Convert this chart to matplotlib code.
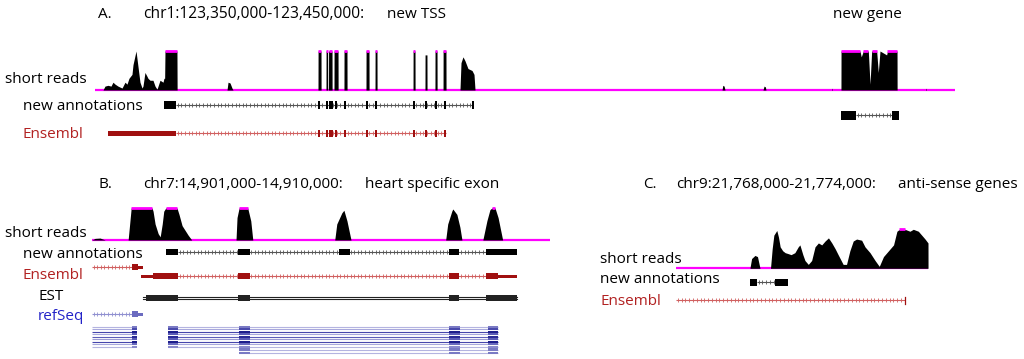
import numpy as np
import matplotlib.pyplot as plt

plt.rcParams['font.family'] = ['Open Sans', 'DejaVu Sans']

W, H = 1024, 359
MAGENTA = '#ff00ff'
RED = '#a01010'
RED_TXT = '#b22222'
BLUE_TXT = '#2323c8'

# ---------------- panel A : chr1 window, positions in kb from window start
cov_a_pos = [0, 0.93, 1.16, 1.51, 1.86, 2.09, 2.33, 2.67, 3.14, 3.26, 3.49, 3.72, 3.95, 4.30, 4.42,
             4.77, 5.00, 5.23, 5.47, 5.58, 5.81, 6.05, 6.16, 6.40, 6.74, 6.98, 7.21, 7.56, 7.91, 8.02,
             8.10, 8.14, 9.53, 9.55,
             15.35, 15.47, 15.70, 15.93, 16.05,
             25.93, 25.94, 26.28, 26.29,
             26.86, 26.87, 27.05, 27.06, 27.15, 27.16, 27.56, 27.57,
             27.79, 27.80, 28.26, 28.27,
             28.95, 28.96, 29.30, 29.31,
             31.51, 31.52, 31.86, 31.87,
             32.56, 32.57, 32.79, 32.80,
             36.98, 36.99, 37.21, 37.22,
             38.37, 38.38, 38.60, 38.61,
             39.53, 39.54, 39.77, 39.78,
             40.47, 40.48, 40.81, 40.82,
             42.44, 42.56, 42.79, 43.02, 43.37, 43.84, 44.07, 44.19,
             72.91, 73.00, 73.15, 73.26,
             77.67, 77.80, 77.95, 78.02,
             85.65, 85.70, 85.75,
             86.74, 86.75, 88.95, 89.10, 89.34, 89.50, 89.92, 90.12, 90.31, 90.50,
             90.89, 91.08, 91.28, 92.05, 92.15, 93.26, 93.27,
             96.58, 96.63, 96.68, 100]
cov_a_val = [0, 0, 0.10, 0.12, 0.10, 0.20, 0.15, 0.10, 0.05, 0.10, 0.20, 0.15, 0.30, 0.40, 0.65,
             1.0, 0.60, 0.20, 0.05, 0.10, 0.45, 0.35, 0.30, 0.25, 0.25, 0.10, 0.02, 0.25, 0.20, 0.30,
             0.30, 1.0, 1.0, 0,
             0, 0.20, 0.18, 0.05, 0,
             0, 1, 1, 0,
             0, 1, 1, 0, 0, 1, 1, 0,
             0, 1, 1, 0,
             0, 1, 1, 0,
             0, 1, 1, 0,
             0, 1, 1, 0,
             0, 1, 1, 0,
             0, 0.9, 0.9, 0,
             0, 1, 1, 0,
             0, 1, 1, 0,
             0, 0.70, 0.85, 0.75, 0.55, 0.50, 0.40, 0,
             0, 0.12, 0.10, 0,
             0, 0.10, 0.08, 0,
             0, 0.05, 0,
             0, 1, 1, 0.85, 1, 1, 1, 0.15, 1, 1,
             1, 0.45, 1, 0.90, 1, 1, 0,
             0, 0.05, 0, 0]

new_a_exons = [(8.02, 9.42), (25.93, 26.17), (26.86, 27.10), (27.21, 27.45), (27.44, 27.68),
               (27.90, 28.14), (28.95, 29.19), (31.51, 31.75), (32.55, 32.79), (36.97, 37.21),
               (38.37, 38.61), (39.53, 39.77), (40.58, 40.82), (43.83, 44.07)]
new_a_span = (9.42, 43.95)
ens_a_utr = [(1.51, 9.42)]
ens_a_exons = new_a_exons[1:-1]
ens_a_span = (9.42, 40.81)
newgene_exons = [(86.74, 88.49), (92.67, 93.49)]
newgene_span = (88.49, 92.67)

# ---------------- panel B : chr7 window, kb from window start
cov_b_pos = [0, 0.06, 0.16, 0.26, 0.71, 0.77, 1.18, 1.20, 1.24, 1.30, 1.34, 1.38, 1.41, 1.45, 1.67,
             1.71, 1.77, 1.83, 1.89, 1.96,
             2.83, 2.85, 2.89, 3.06, 3.12, 3.16,
             4.77, 4.81, 4.91, 4.95, 5.01, 5.09,
             6.95, 6.99, 7.07, 7.09, 7.17, 7.23, 7.27,
             7.68, 7.76, 7.82, 7.86, 7.92, 7.98, 8.07, 9.0]
cov_b_val = [0, 0.05, 0.06, 0, 0, 1, 1, 0.9, 0.5, 0.2, 0.1, 0.5, 0.9, 1, 1,
             0.8, 0.45, 0.3, 0.15, 0,
             0, 0.7, 1, 1, 0.6, 0,
             0, 0.5, 0.85, 0.93, 0.6, 0,
             0, 0.5, 0.9, 0.97, 0.8, 0.4, 0,
             0, 0.6, 0.95, 1, 1, 0.7, 0, 0]

new_b_exons = [(1.45, 1.69), (2.87, 3.10), (4.85, 5.07), (7.01, 7.21), (7.74, 8.35)]
new_b_span = (1.69, 7.74)
ens_b1_span = (0.0, 0.79)
ens_b1_exons = [(0.79, 0.90)]
ens_b1_utr = [(0.90, 1.00)]
ens_b2_span = (1.20, 7.74)
ens_b2_exons = [(1.20, 1.69), (2.87, 3.10), (7.01, 7.21), (7.74, 7.98)]
ens_b2_utr = [(0.96, 1.20), (7.98, 8.35)]
est_span = (1.00, 8.35)
est_exons = [(1.06, 1.69), (2.87, 3.10), (7.01, 7.21), (7.74, 8.35)]
refseq_span = (0.0, 0.79)
refseq_exons = [(0.79, 0.90)]
refseq_utr = [(0.90, 1.00)]
blue_left_span = (0.0, 0.84)
blue_left_exons = [(0.79, 0.88)]
blue_mid_span = (1.49, 7.98)
blue_mid_exons = [(1.49, 1.69), (2.89, 3.10), (7.01, 7.23), (7.78, 7.98)]
blue_low_span = (2.89, 7.98)
blue_low_exons = [(2.89, 3.10), (7.01, 7.23), (7.78, 7.98)]

# ---------------- panel C : chr9 window, kb from window start
cov_c_pos = [0, 1.76, 1.80, 1.88, 1.94, 1.98, 2.00, 2.25, 2.29, 2.33, 2.40, 2.44, 2.48, 2.54, 2.60,
             2.66, 2.74, 2.83, 2.91, 2.95, 3.02, 3.07, 3.15, 3.23, 3.31, 3.39, 3.47, 3.55, 3.63,
             3.71, 3.79, 3.86, 3.98, 4.06, 4.14, 4.22, 4.30, 4.42, 4.50, 4.62, 4.74, 4.84, 4.94,
             5.06, 5.18, 5.26, 5.32, 5.45, 5.57, 5.65, 5.77, 5.85, 5.93, 6.00, 6.001]
cov_c_val = [0, 0, 0.25, 0.33, 0.30, 0.10, 0, 0, 0.50, 0.85, 0.97, 0.80, 0.55, 0.45, 0.40,
             0.38, 0.35, 0.40, 0.55, 0.60, 0.35, 0.20, 0.10, 0.20, 0.55, 0.65, 0.60, 0.70, 0.78,
             0.65, 0.50, 0.35, 0.10, 0.10, 0.45, 0.70, 0.75, 0.72, 0.55, 0.40, 0.20, 0.05, 0.30,
             0.45, 0.60, 0.95, 1.0, 1.0, 0.95, 1.0, 0.95, 0.85, 0.75, 0.65, 0]
new_c_exons = [(1.76, 1.92), (2.36, 2.67)]
new_c_span = (1.92, 2.36)
ens_c_span = (0.0, 5.45)

fig = plt.figure(figsize=(W / 100, H / 100), dpi=100)


def panel(x0, x1, y0, y1, xmax):
    ax = fig.add_axes([x0 / W, 1 - y1 / H, (x1 - x0) / W, (y1 - y0) / H])
    ax.set_xlim(0, xmax)
    ax.set_ylim(y1, y0)
    ax.axis('off')
    return ax


def coverage(ax, pos, val, base, height, xmax):
    pos = np.array(pos)
    val = np.array(val)
    ax.plot([0, xmax], [base, base], color=MAGENTA, lw=1.6, zorder=1)
    ax.fill_between(pos, base, base - val * height, color='black', lw=0, zorder=2)
    top = np.where(val >= 0.99, base - height, np.nan)
    ax.plot(pos, top, color=MAGENTA, lw=2, zorder=3, solid_capstyle='butt')


def gene(ax, y, span, exons, color, h, utrs=(), utr_h=3, line_color=None, step=None, lw=0.8):
    lc = line_color or color
    ax.plot(span, [y, y], color=lc, lw=lw, solid_capstyle='butt', zorder=2)
    if step:
        xs = np.arange(span[0] + step / 2, span[1], step)
        ax.plot(xs, np.full(len(xs), y), ls='none', marker='|', ms=2.4, mew=0.6, color=lc, zorder=2)
    if utrs:
        ax.broken_barh([(s, e - s) for s, e in utrs], (y - utr_h / 2, utr_h), color=color, lw=0, zorder=3)
    ax.broken_barh([(s, e - s) for s, e in exons], (y - h / 2, h), color=color, lw=0, zorder=3)


# ---- panel A
axA = panel(95, 955, 40, 145, 100)
coverage(axA, cov_a_pos, cov_a_val, 90, 39, 100)
gene(axA, 105, new_a_span, new_a_exons, 'black', 8, line_color='#555555', step=0.42)
gene(axA, 133, ens_a_span, ens_a_exons, RED, 7, utrs=ens_a_utr, utr_h=5, line_color='#d06060', step=0.42)
gene(axA, 115, newgene_span, newgene_exons, 'black', 9, line_color='#555555', step=0.42)

# ---- panel B
axB = panel(92, 550, 200, 359, 9)
coverage(axB, cov_b_pos, cov_b_val, 240, 32, 9)
gene(axB, 252, new_b_span, new_b_exons, 'black', 6, line_color='#555555', step=0.07)
gene(axB, 267, ens_b1_span, ens_b1_exons, RED, 6, utrs=ens_b1_utr, line_color='#d06060', step=0.07)
gene(axB, 276, ens_b2_span, ens_b2_exons, RED, 6, utrs=ens_b2_utr, line_color='#d06060', step=0.07)
for dy in (-1.1, 1.1):
    axB.plot(est_span, [298 + dy, 298 + dy], color='#222222', lw=0.8, zorder=2)
axB.broken_barh([(s, e - s) for s, e in est_exons], (295.3, 5.4), color='#222222', lw=0, zorder=3)
gene(axB, 314, refseq_span, refseq_exons, '#6b6bc0', 6, utrs=refseq_utr, line_color='#9090d0', step=0.07)

row_lines = ['#b4b4e0', '#a8a8dc', '#4646ac', '#a8a8dc', '#5c5cb8', '#9a9ad4', '#4646ac', '#a8a8dc', '#b4b4e0']
row_boxes = ['#7a7ac4', '#4a4aac', '#1e1e8c', '#5a5ab6', '#2a2a96', '#5a5ab6', '#1e1e8c', '#6a6abe', '#8a8acc']
for i in range(len(row_lines)):
    y = 326.7 + 2.5 * i
    gene(axB, y, blue_left_span, blue_left_exons, row_boxes[i], 2.1, line_color=row_lines[i], lw=0.8)
    gene(axB, y, blue_mid_span, blue_mid_exons, row_boxes[i], 2.1, line_color=row_lines[i], lw=0.8)
for y in (349.5, 353):
    gene(axB, y, blue_low_span, blue_low_exons, '#7a7ac4', 2.2, line_color='#b4b4e0', lw=0.8)

# ---- panel C
axC = panel(676, 928, 220, 310, 6)
coverage(axC, cov_c_pos, cov_c_val, 268.3, 39, 6)
gene(axC, 282.3, new_c_span, new_c_exons, 'black', 7, line_color='#555555', step=0.09)
gene(axC, 300, ens_c_span, [], RED, 0, line_color='#d06060', step=0.09)
axC.plot([ens_c_span[1], ens_c_span[1]], [296.5, 303.5], color=RED, lw=0.9)

# ---- labels (baseline positions in pixels)
labels = [
    ('A.', 98, 18.3, 'black', 11), ('chr1:123,350,000-123,450,000:', 143, 18.3, 'black', 11.2),
    ('new TSS', 387, 18.3, 'black', 11), ('new gene', 833, 18.3, 'black', 11),
    ('short reads', 5, 83.3, 'black', 11), ('new annotations', 23, 110, 'black', 11),
    ('Ensembl', 23, 138, RED_TXT, 11),
    ('B.', 98, 188.3, 'black', 11), ('chr7:14,901,000-14,910,000:', 143, 188.3, 'black', 11),
    ('heart specific exon', 365, 188.3, 'black', 11),
    ('short reads', 5, 236.7, 'black', 11), ('new annotations', 23, 258.3, 'black', 11),
    ('Ensembl', 23, 279.3, RED_TXT, 11), ('EST', 38, 300, 'black', 11), ('refSeq', 38, 320, BLUE_TXT, 11),
    ('C.', 643, 188.3, 'black', 11), ('chr9:21,768,000-21,774,000:', 676, 188.3, 'black', 11),
    ('anti-sense genes', 898, 188.3, 'black', 11),
    ('short reads', 600, 263.3, 'black', 11), ('new annotations', 600, 283.3, 'black', 11),
    ('Ensembl', 600, 305, RED_TXT, 11),
]
for s, x, y, c, fs in labels:
    fig.text(x / W, 1 - y / H, s, ha='left', va='baseline', fontsize=fs, color=c)

fig.savefig('out.png', dpi=100, facecolor='white')
